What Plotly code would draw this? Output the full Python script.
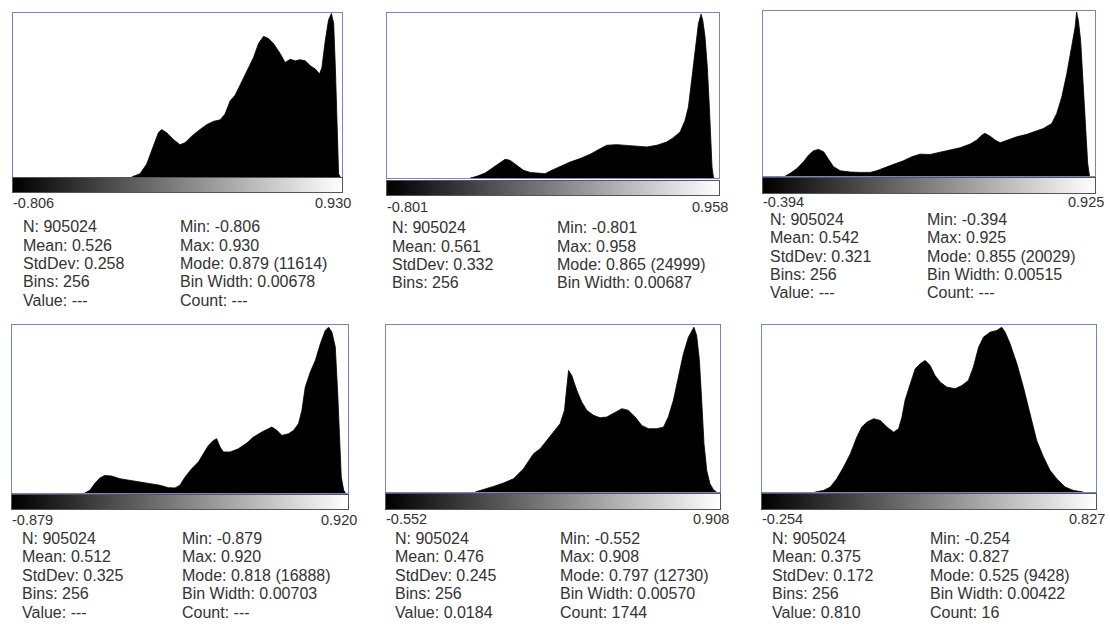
import plotly.graph_objects as go

# ---------------- data ----------------
p1_x = [-0.180, -0.136, -0.101, -0.075, -0.057, -0.039, -0.022, 0.005, 0.040, 0.075, 0.102, 0.137,
        0.181, 0.216, 0.251, 0.287, 0.313, 0.340, 0.366, 0.392, 0.428, 0.463, 0.489, 0.516, 0.542,
        0.569, 0.604, 0.630, 0.657, 0.683, 0.710, 0.736, 0.763, 0.789, 0.812, 0.824, 0.842, 0.859,
        0.874, 0.886, 0.895, 0.904, 0.912, 0.921]
p1_y = [0, 230, 910, 1860, 2560, 3140, 3370, 3140, 2670, 2290, 2440, 2900, 3370, 3720, 3950, 4060,
        4470, 5420, 5810, 6500, 7550, 8480, 9470, 9990, 9830, 9470, 8760, 8130, 8360, 8250, 8330,
        8250, 7900, 7670, 7320, 7780, 9710, 11150, 11614, 10920, 7780, 3020, 230, 0]

p2_x = [-0.360, -0.325, -0.281, -0.236, -0.201, -0.175, -0.148, -0.113, -0.078, -0.042, -0.007,
        0.037, 0.072, 0.116, 0.169, 0.222, 0.275, 0.328, 0.363, 0.416, 0.469, 0.522, 0.575, 0.628,
        0.681, 0.716, 0.752, 0.778, 0.796, 0.813, 0.831, 0.849, 0.863, 0.872, 0.884, 0.896, 0.907,
        0.914, 0.921, 0.928, 0.933]
p2_y = [0, 250, 750, 1670, 2420, 2850, 2670, 1920, 1170, 850, 750, 650, 1170, 1770, 2420, 2950,
        3600, 4450, 4970, 5070, 4920, 4820, 4720, 4970, 5470, 6120, 7000, 8750, 10800, 14850, 19420,
        23470, 24900, 23970, 21450, 16870, 10800, 5720, 1670, 150, 0]

p3_x = [-0.305, -0.286, -0.259, -0.233, -0.213, -0.193, -0.173, -0.153, -0.133, -0.114, -0.087,
        -0.047, -0.008, 0.032, 0.058, 0.085, 0.125, 0.164, 0.197, 0.230, 0.270, 0.310, 0.350, 0.389,
        0.429, 0.455, 0.475, 0.488, 0.508, 0.528, 0.548, 0.574, 0.614, 0.654, 0.694, 0.720, 0.753,
        0.773, 0.793, 0.813, 0.832, 0.846, 0.852, 0.859, 0.868, 0.879, 0.888, 0.896, 0.903]
p3_y = [0, 320, 920, 1740, 2540, 3080, 3240, 2940, 2000, 1140, 640, 480, 440, 440, 640, 920, 1420,
        1860, 2340, 2660, 2620, 2900, 3160, 3440, 3890, 4370, 4970, 5190, 4850, 4370, 4050, 4370,
        4770, 5070, 5470, 5790, 6390, 7610, 9610, 12460, 15700, 18130, 19950, 18930, 16500, 10840,
        5190, 1540, 0]

p4_x = [-0.489, -0.462, -0.436, -0.409, -0.382, -0.346, -0.301, -0.248, -0.194, -0.140, -0.087,
        -0.042, -0.006, 0.020, 0.047, 0.083, 0.119, 0.146, 0.173, 0.199, 0.217, 0.235, 0.253, 0.289,
        0.333, 0.378, 0.414, 0.459, 0.494, 0.512, 0.539, 0.566, 0.602, 0.629, 0.655, 0.673, 0.691,
        0.718, 0.745, 0.772, 0.798, 0.816, 0.834, 0.852, 0.865, 0.875, 0.884, 0.897, 0.906]
p4_y = [0, 270, 950, 1500, 1770, 1710, 1440, 1280, 1110, 950, 780, 540, 510, 780, 1600, 2450, 3120,
        3970, 4800, 5300, 5470, 4630, 4140, 4140, 4460, 5030, 5640, 6150, 6480, 6650, 6320, 5810,
        5980, 6320, 6990, 8330, 10670, 12190, 13360, 15050, 16380, 16720, 16210, 14710, 10000, 4970,
        1600, 270, 0]

p5_x = [-0.162, -0.126, -0.082, -0.038, 0.006, 0.049, 0.093, 0.122, 0.151, 0.180, 0.209, 0.228,
        0.238, 0.246, 0.260, 0.282, 0.304, 0.326, 0.355, 0.384, 0.413, 0.442, 0.479, 0.508, 0.537,
        0.566, 0.595, 0.631, 0.661, 0.682, 0.704, 0.726, 0.748, 0.770, 0.784, 0.794, 0.806, 0.818,
        0.828, 0.838, 0.850, 0.864, 0.879, 0.893]
p5_y = [0, 180, 430, 690, 1020, 1780, 2930, 3310, 3950, 4580, 5220, 6240, 8020, 9290, 8910, 7770,
        6870, 6240, 5860, 5680, 5730, 6030, 6370, 6240, 5730, 5090, 4840, 4840, 4960, 5730, 7000,
        8780, 10570, 11840, 12350, 12600, 11970, 10060, 7000, 3690, 1650, 640, 180, 0]

p6_x = [-0.082, -0.055, -0.033, -0.012, 0.010, 0.032, 0.053, 0.069, 0.086, 0.107, 0.129, 0.150,
        0.172, 0.188, 0.199, 0.209, 0.226, 0.242, 0.258, 0.274, 0.290, 0.306, 0.323, 0.344, 0.371,
        0.393, 0.414, 0.430, 0.447, 0.463, 0.484, 0.506, 0.522, 0.533, 0.549, 0.571, 0.592, 0.614,
        0.635, 0.657, 0.678, 0.700, 0.727, 0.754, 0.786]
p6_y = [0, 90, 280, 750, 1410, 2170, 3110, 3680, 3960, 4150, 4050, 3680, 3390, 3580, 4240, 5190,
        6130, 6980, 7260, 7450, 7170, 6600, 6220, 5940, 5850, 6030, 6320, 7070, 8200, 8770, 9050,
        9150, 9330, 9050, 8390, 7260, 5940, 4430, 2920, 1980, 1230, 750, 280, 90, 0]

hist_x = [p1_x, p2_x, p3_x, p4_x, p5_x, p6_x]
hist_y = [p1_y, p2_y, p3_y, p4_y, p5_y, p6_y]

n_vals = ["905024"] * 6
means = ["0.526", "0.561", "0.542", "0.512", "0.476", "0.375"]
stddevs = ["0.258", "0.332", "0.321", "0.325", "0.245", "0.172"]
bins = ["256"] * 6
values = ["---", None, "---", "---", "0.0184", "0.810"]
mins = ["-0.806", "-0.801", "-0.394", "-0.879", "-0.552", "-0.254"]
maxs = ["0.930", "0.958", "0.925", "0.920", "0.908", "0.827"]
mode_vals = ["0.879", "0.865", "0.855", "0.818", "0.797", "0.525"]
mode_counts = [11614, 24999, 20029, 16888, 12730, 9428]
bin_widths = ["0.00678", "0.00687", "0.00515", "0.00703", "0.00570", "0.00422"]
counts = ["---", None, "---", "---", "1744", "16"]

# ---------------- layout geometry (pixels) ----------------
W, H = 1110, 628
# box_left, box_right, box_top, box_bottom, grad_top, grad_bottom, label_y, stats_y0, row_dy, left_col_x, right_col_x
geo = [
    (13, 342, 13, 177, 178, 192, 203, 227, 18.3, 21, 178),
    (387, 719, 13, 178, 181, 195, 207, 228, 18.3, 390, 555),
    (763, 1095, 11, 176, 178, 193, 202, 219, 18.5, 768, 925),
    (12, 348, 325, 493, 495, 509, 520, 538, 18.5, 20, 180),
    (386, 720, 325, 492, 494, 509, 519, 538, 18.5, 393, 558),
    (762, 1096, 325, 492, 494, 509, 519, 538, 18.5, 770, 928),
]

BOX = "#7585bd"
TXT = "#333333"
FONT = "Liberation Sans, Arial, sans-serif"

fig = go.Figure()
layout = dict(width=W, height=H, margin=dict(l=0, r=0, t=0, b=0),
              paper_bgcolor="white", plot_bgcolor="white", showlegend=False)
annotations = []


def px(x):
    return x / W


def py(y):
    return 1 - y / H


for i in range(6):
    bl, br, bt, bb, gt, gb, ly, sy, dy, lx, rx = geo[i]
    lo, hi = float(mins[i]), float(maxs[i])
    ha = 2 * i + 1
    ga = 2 * i + 2
    hx = "x" if ha == 1 else f"x{ha}"
    hy = "y" if ha == 1 else f"y{ha}"
    gx, gy = f"x{ga}", f"y{ga}"

    fig.add_trace(go.Scatter(x=hist_x[i], y=hist_y[i], mode="lines", fill="tozeroy",
                             fillcolor="black", line=dict(color="black", width=0.8),
                             xaxis=hx, yaxis=hy, hoverinfo="skip"))
    fig.add_trace(go.Heatmap(z=[list(range(256))], colorscale=[[0, "black"], [1, "white"]],
                             showscale=False, xaxis=gx, yaxis=gy, hoverinfo="skip"))

    axk = "xaxis" if ha == 1 else f"xaxis{ha}"
    ayk = "yaxis" if ha == 1 else f"yaxis{ha}"
    common = dict(showgrid=False, zeroline=False, showticklabels=False, ticks="",
                  showline=True, mirror=True, linewidth=1)
    layout[axk] = dict(domain=[px(bl), px(br)], range=[lo, hi], anchor=hy,
                       linecolor=BOX, **common)
    layout[ayk] = dict(domain=[py(bb), py(bt)], range=[0, mode_counts[i] * 1.003], anchor=hx,
                       linecolor=BOX, **common)
    layout[f"xaxis{ga}"] = dict(domain=[px(bl), px(br)], range=[-0.5, 255.5], anchor=gy,
                                linecolor="#555555", **common)
    layout[f"yaxis{ga}"] = dict(domain=[py(gb), py(gt)], range=[-0.5, 0.5], anchor=gx,
                                linecolor="#555555", **common)

    def add(text, x, y, anchor="left", size=16):
        annotations.append(dict(text=text, x=px(x), y=py(y), xref="paper", yref="paper",
                                xanchor=anchor, yanchor="middle", showarrow=False,
                                font=dict(family=FONT, size=size, color=TXT)))

    add(mins[i], bl - 2, ly, "left", 14.5)
    add(maxs[i], br + 11, ly, "right", 14.5)

    left_rows = [f"N: {n_vals[i]}", f"Mean: {means[i]}", f"StdDev: {stddevs[i]}", f"Bins: {bins[i]}"]
    right_rows = [f"Min: {mins[i]}", f"Max: {maxs[i]}", f"Mode: {mode_vals[i]} ({mode_counts[i]})",
                  f"Bin Width: {bin_widths[i]}"]
    if values[i] is not None:
        left_rows.append(f"Value: {values[i]}")
        right_rows.append(f"Count: {counts[i]}")
    for r, (lt, rt) in enumerate(zip(left_rows, right_rows)):
        add(lt, lx, sy + r * dy)
        add(rt, rx, sy + r * dy)

layout["annotations"] = annotations
fig.update_layout(**layout)
fig.write_html("out.html", config={"displayModeBar": False, "staticPlot": True},
               post_script="document.body.style.margin='0px';document.body.style.overflow='hidden';")
